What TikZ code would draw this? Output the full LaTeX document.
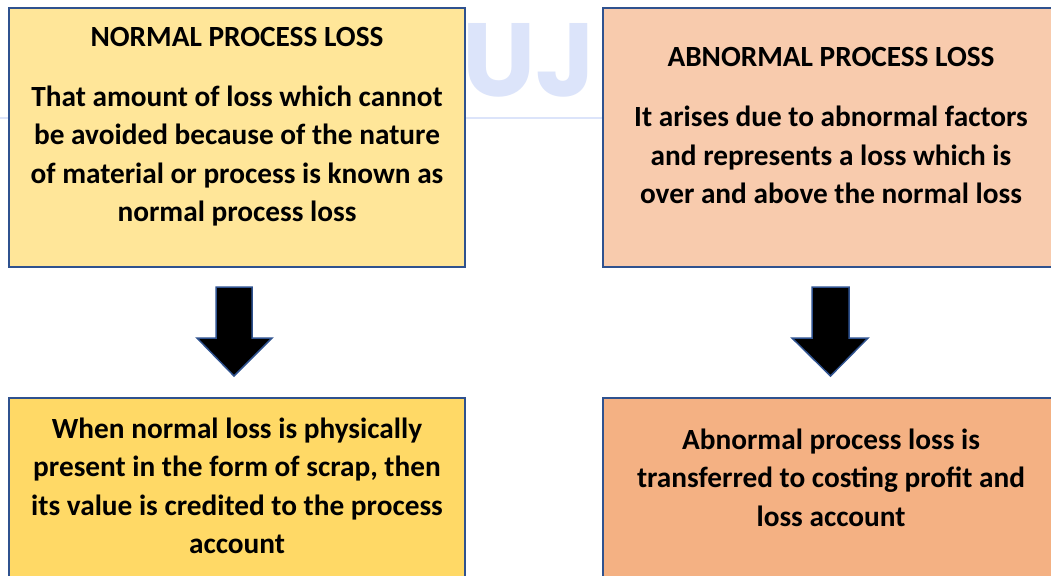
\documentclass[tikz,border=0pt]{standalone}
\usepackage{fontspec}
\setmainfont{Carlito}
\newfontfamily\wmfont{Poppins}
\usetikzlibrary{calc}
\definecolor{edge}{HTML}{2F528F}
\definecolor{goldA}{HTML}{FFE699}
\definecolor{goldB}{HTML}{FFD966}
\definecolor{orangeA}{HTML}{F8CBAD}
\definecolor{orangeB}{HTML}{F4B183}
\definecolor{wm}{HTML}{DCE4FA}
\tikzset{
  x=1pt, y=1pt,
  box/.style={draw=edge, line width=2pt, minimum width=456pt, minimum height=259pt, inner sep=0pt},
  txt/.style={align=center, font=\bfseries\fontsize{29.3}{38.5}\selectfont, inner sep=0pt},
  ttl/.style={align=center, font=\bfseries\fontsize{29.3}{32}\selectfont, inner sep=0pt},
  blockarrow/.style={fill=black, draw=edge, line width=1.5pt, line join=miter},
}
\begin{document}
\begin{tikzpicture}
\useasboundingbox (0,0) rectangle (1051,-575);
\clip (0,0) rectangle (1051,-575);
\fill[white] (0,0) rectangle (1051,-575);
% watermark
\node[text=wm, font=\wmfont\bfseries\fontsize{104}{104}\selectfont, anchor=base west, inner sep=0pt] (wmark) at (462,-97) {UJ};
\draw[wm, line width=2.5pt] (0,-118) -- (1051,-118);
% boxes
\node[box, fill=goldA] (n1) at (237,-137.5) {};
\node[box, fill=orangeA, minimum width=457pt] (a1) at (831.5,-137.5) {};
\node[box, fill=goldB] (n2) at (237,-527.5) {};
\node[box, fill=orangeB, minimum width=457pt] (a2) at (831.5,-527.5) {};
% texts
\node[ttl] (n1t) at (237,-37) {NORMAL PROCESS LOSS};
\node[txt] (n1b) at (237,-156) {That amount of loss which cannot\\be avoided because of the nature\\of material or process is known as\\normal process loss};
\node[ttl] (a1t) at (831,-57) {ABNORMAL PROCESS LOSS};
\node[txt] (a1b) at (831,-155) {It arises due to abnormal factors\\and represents a loss which is\\over and above the normal loss};
\node[txt] (n2b) at (237,-486) {When normal loss is physically\\present in the form of scrap, then\\its value is credited to the process\\account};
\node[txt] (a2b) at (831,-477.5) {Abnormal process loss is\\transferred to costing profit and\\loss account};
% block arrows
\coordinate (p1) at (234,-287);
\coordinate (p2) at (830.5,-287);
\draw[blockarrow] ($(p1)+(-18,0)$) -- ++(36,0) -- ++(0,-51) -- ++(20,0) -- ($(p1)+(0,-89)$) -- ($(p1)+(-37,-51)$) -- ++(19,0) -- cycle;
\draw[blockarrow] ($(p2)+(-18.5,0)$) -- ++(37,0) -- ++(0,-51) -- ++(19,0) -- ($(p2)+(0,-89)$) -- ($(p2)+(-38.5,-51)$) -- ++(20,0) -- cycle;
\end{tikzpicture}
\end{document}
